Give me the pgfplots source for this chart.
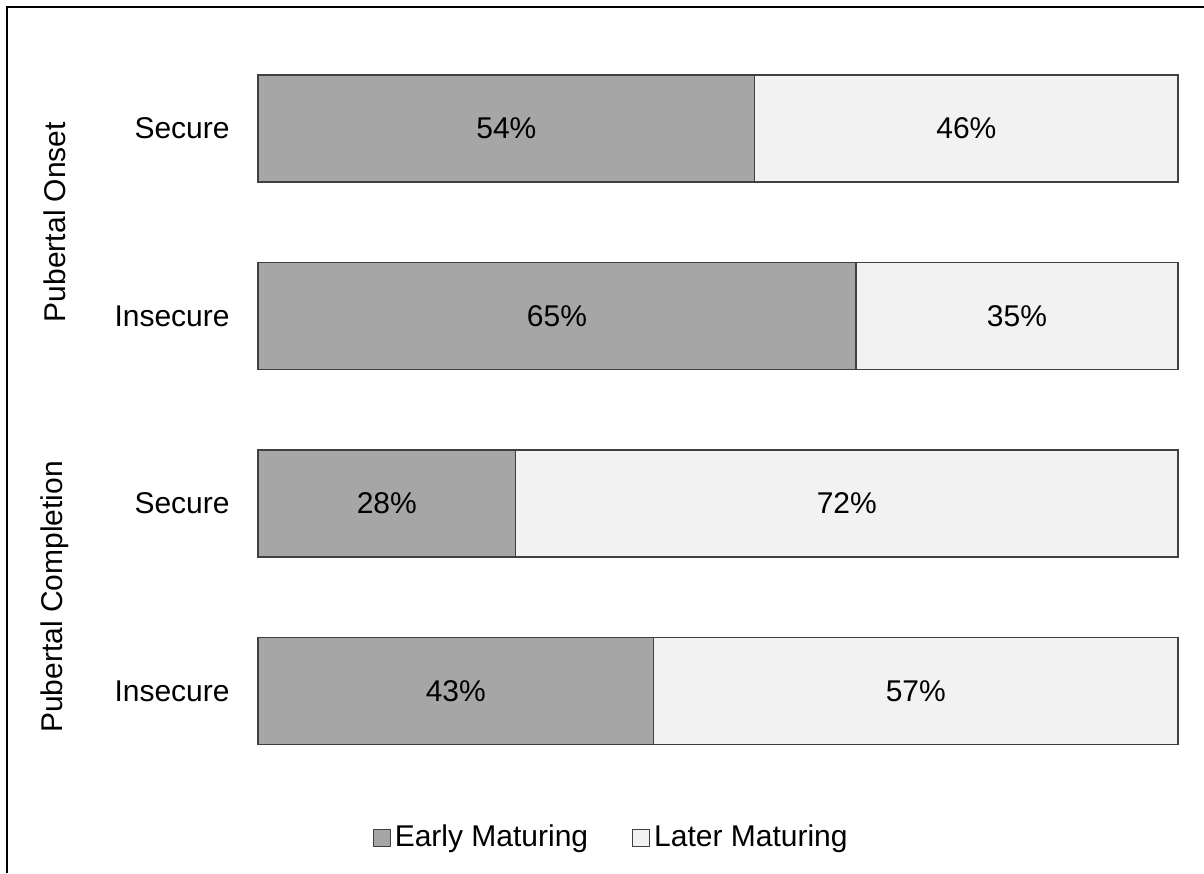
\documentclass[border=0pt]{standalone}
\usepackage{pgfplots}
\pgfplotsset{compat=1.18}
\usepackage{fontspec}
\setmainfont{Liberation Sans}

\definecolor{early}{HTML}{A6A6A6}
\definecolor{later}{HTML}{F2F2F2}
\definecolor{edge}{HTML}{404040}
\newcommand\chartfont{\fontsize{15}{18}\selectfont}

\begin{document}
\chartfont
\begin{tikzpicture}[x=1pt,y=1pt]
\path[use as bounding box] (0,0) rectangle (602,436.5);
\draw[line width=1pt] (3.5,0) -- (3.5,433) -- (602,433);

\pgfplotsset{geom/.style={
    at={(129pt,44.125pt)}, anchor=south west, scale only axis,
    width=460pt, height=375pt, clip=false,
    xmin=0, xmax=100, ymin=-0.5, ymax=3.5}}

% bars: y=3 onset secure, 2 onset insecure, 1 completion secure, 0 completion insecure
\begin{axis}[geom,
    xbar stacked, bar width=53.5pt,
    axis line style={draw=none},
    xtick=\empty,
    ytick={0,1,2,3},
    yticklabels={Insecure,Secure,Insecure,Secure},
    major tick length=0pt,
    yticklabel style={inner sep=0pt, xshift=-14pt, font=\chartfont},
    legend style={at={(0.385,-0.071)}, anchor=center, draw=none, fill=none,
        font=\chartfont, legend columns=2,
        /tikz/every even column/.append style={column sep=20pt}},
]
\addplot[fill=early, draw=edge, line width=0.6pt,
    legend image code/.code={\draw[fill=early, draw=edge, line width=0.6pt] (0pt,-4.2pt) rectangle (8.4pt,4.2pt);}]
    coordinates {(43,0) (28,1) (65,2) (54,3)};
\addplot[fill=later, draw=edge, line width=0.6pt,
    legend image code/.code={\draw[fill=later, draw=edge, line width=0.6pt] (0pt,-4.2pt) rectangle (8.4pt,4.2pt);}]
    coordinates {(57,0) (72,1) (35,2) (46,3)};
\legend{Early Maturing, Later Maturing}
\end{axis}

% percentage labels centred in each segment
\begin{axis}[geom, hide axis]
\addplot[draw=none, mark=none, nodes near coords, point meta=explicit symbolic,
    every node near coord/.append style={anchor=center, font=\chartfont}]
    coordinates {(21.5,0)[43\%] (14,1)[28\%] (32.5,2)[65\%] (27,3)[54\%]};
\addplot[draw=none, mark=none, nodes near coords, point meta=explicit symbolic,
    every node near coord/.append style={anchor=center, font=\chartfont}]
    coordinates {(71.5,0)[57\%] (64,1)[72\%] (82.5,2)[35\%] (77,3)[46\%]};
\end{axis}

\node[rotate=90, font=\chartfont] at (27.5,325.5) {Pubertal Onset};
\node[rotate=90, font=\chartfont] at (27.5,138) {Pubertal Completion};
\end{tikzpicture}
\end{document}
